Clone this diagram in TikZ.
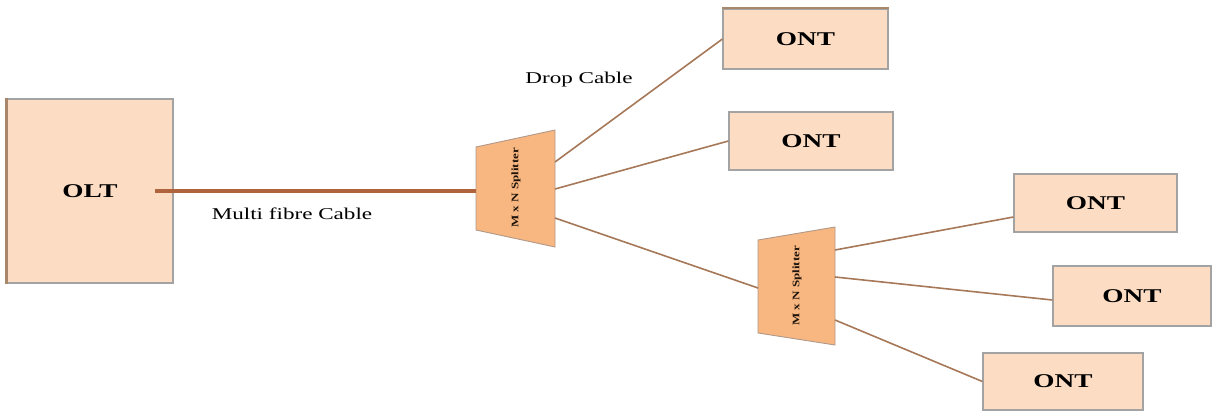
\documentclass[tikz,border=0pt]{standalone}
\usepackage{fontspec}
\setmainfont{Liberation Serif}
\definecolor{boxfill}{HTML}{FCDDC3}
\definecolor{boxline}{HTML}{A3A3A3}
\definecolor{splitfill}{HTML}{F8B680}
\definecolor{splitline}{HTML}{B0998A}
\definecolor{cable}{HTML}{A67858}
\definecolor{maincable}{HTML}{B0643E}
\definecolor{shadowline}{HTML}{A8876A}
\newcommand{\widetxt}[1]{\scalebox{1.4}[1]{#1}}
\begin{document}
\begin{tikzpicture}[x=1pt,y=-1pt,
  unitbox/.style={draw=boxline, line width=1.2pt, fill=boxfill, inner sep=0pt,
    font=\fontsize{19.5}{21}\selectfont\bfseries},
  splitbody/.style={draw=splitline, line width=0.9pt, fill=splitfill},
  splitlabel/.style={rotate=90, inner sep=0pt, text=black!85!brown, font=\fontsize{10}{11}\selectfont\bfseries},
  dropline/.style={draw=cable, line width=1.6pt},
  mainline/.style={draw=maincable, line width=3.2pt},
  caption/.style={inner sep=0pt, font=\fontsize{16.5}{18}\selectfont}]
\useasboundingbox (0,0) rectangle (1213,412);
% OLT
\node[unitbox, minimum width=166pt, minimum height=184pt] (olt) at (90,191) {\widetxt{OLT}};
\draw[shadowline, line width=2.4pt] (olt.south west) -- (olt.north west);
% ONTs
\node[unitbox, minimum width=165pt, minimum height=60pt] (ont1) at (805.5,39) {\widetxt{ONT}};
\node[unitbox, minimum width=164pt, minimum height=58pt] (ont2) at (811,141) {\widetxt{ONT}};
\node[unitbox, minimum width=163pt, minimum height=58pt] (ont3) at (1095.5,203) {\widetxt{ONT}};
\node[unitbox, minimum width=158pt, minimum height=60pt] (ont4) at (1132,296) {\widetxt{ONT}};
\node[unitbox, minimum width=160pt, minimum height=57pt] (ont5) at (1063,381.5) {\widetxt{ONT}};
\draw[shadowline, line width=1.8pt] (ont1.north west) -- (ont1.north east);
% Splitter 1
\draw[splitbody] (476,147) -- (555,130) -- (555,247) -- (476,230) -- cycle;
\node[splitlabel] (sp1) at (516,188) {\scalebox{1.3}[1]{M x N Splitter}};
\coordinate (sp1in) at (476,191);
\coordinate (sp1a) at (555,162);
\coordinate (sp1b) at (555,189);
\coordinate (sp1c) at (555,218);
% Splitter 2
\draw[splitbody] (758,240) -- (835,227) -- (835,345) -- (758,333) -- cycle;
\node[splitlabel] (sp2) at (797,286) {\scalebox{1.3}[1]{M x N Splitter}};
\coordinate (sp2in) at (758,288);
\coordinate (sp2a) at (835,250);
\coordinate (sp2b) at (835,277);
\coordinate (sp2c) at (835,320);
% cables
\coordinate (oltport) at (155,191);
\draw[mainline] (oltport) -- (sp1in);
\draw[dropline] (sp1a) -- (ont1.west);
\draw[dropline] (sp1b) -- (ont2.west);
\draw[dropline] (sp1c) -- (sp2in);
\draw[dropline] (sp2a) -- ([yshift=-14pt]ont3.west);
\draw[dropline] (sp2b) -- ([yshift=-4pt]ont4.west);
\draw[dropline] (sp2c) -- (ont5.west);
% labels
\node[caption] (droplbl) at (579,80) {\widetxt{Drop Cable}};
\node[caption] (mainlbl) at (292,214) {\widetxt{Multi fibre Cable}};
\end{tikzpicture}
\end{document}
